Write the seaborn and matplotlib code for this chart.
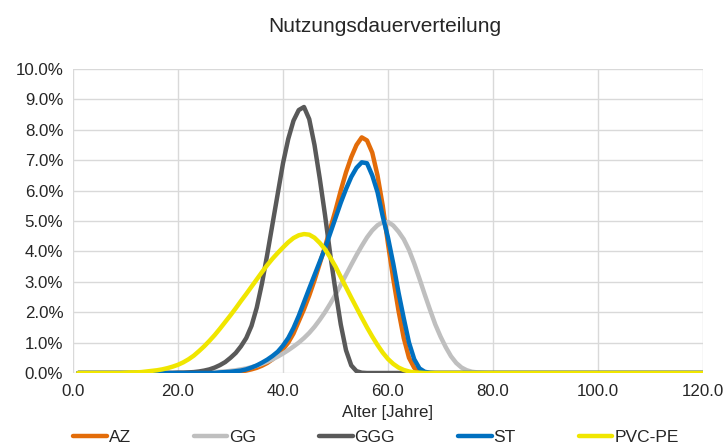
import matplotlib
matplotlib.use("Agg")
import matplotlib.pyplot as plt
import seaborn as sns
import pandas as pd
from matplotlib.ticker import FuncFormatter

# ---- data (percent per year of age) ----
years = list(range(1, 121))
series_names = ["AZ", "GG", "GGG", "ST", "PVC-PE"]
colors = ["#E36C09", "#BFBFBF", "#595959", "#0070C0", "#F0E600"]

az_start = 30
az_vals = [0.02, 0.03, 0.05, 0.08, 0.12, 0.17, 0.24, 0.33, 0.45, 0.6,
           0.78, 1.0, 1.3, 1.7, 2.1, 2.55, 3.05, 3.6, 4.15, 4.75,
           5.35, 6.0, 6.6, 7.1, 7.5, 7.75, 7.65, 7.25, 6.5, 5.5,
           4.25, 3.1, 2.05, 1.15, 0.5, 0.17, 0.05, 0.01]

gg_start = 25
gg_vals = [0.01, 0.02, 0.03, 0.04, 0.05, 0.07, 0.09, 0.12, 0.15, 0.19,
           0.24, 0.3, 0.37, 0.45, 0.54, 0.64, 0.75, 0.87, 1.0, 1.15,
           1.32, 1.52, 1.75, 2.0, 2.28, 2.58, 2.9, 3.23, 3.56, 3.88,
           4.18, 4.46, 4.69, 4.86, 4.96, 4.97, 4.85, 4.65, 4.4, 4.05,
           3.6, 3.1, 2.58, 2.08, 1.6, 1.2, 0.85, 0.55, 0.33, 0.18,
           0.09, 0.04, 0.02, 0.01]

ggg_start = 20
ggg_vals = [0.01, 0.01, 0.02, 0.03, 0.05, 0.08, 0.12, 0.18, 0.26, 0.36,
            0.5, 0.66, 0.88, 1.15, 1.55, 2.15, 2.95, 3.9, 4.9, 5.9,
            6.9, 7.7, 8.3, 8.65, 8.75, 8.35, 7.5, 6.4, 5.2, 3.9,
            2.7, 1.6, 0.75, 0.25, 0.06, 0.01]

st_start = 28
st_vals = [0.02, 0.03, 0.04, 0.06, 0.08, 0.12, 0.18, 0.25, 0.34, 0.44,
           0.56, 0.7, 0.9, 1.15, 1.48, 1.88, 2.33, 2.78, 3.22, 3.66,
           4.1, 4.6, 5.1, 5.6, 6.05, 6.45, 6.75, 6.93, 6.9, 6.5,
           5.95, 5.15, 4.45, 3.6, 2.65, 1.8, 1.0, 0.45, 0.15, 0.04,
           0.01]

pvc_start = 10
pvc_vals = [0.01, 0.02, 0.02, 0.03, 0.05, 0.07, 0.09, 0.12, 0.16, 0.21,
            0.27, 0.35, 0.45, 0.57, 0.72, 0.88, 1.06, 1.25, 1.46, 1.68,
            1.9, 2.13, 2.37, 2.6, 2.84, 3.08, 3.32, 3.55, 3.76, 3.95,
            4.13, 4.3, 4.44, 4.53, 4.57, 4.55, 4.45, 4.28, 4.07, 3.8,
            3.5, 3.16, 2.82, 2.48, 2.15, 1.82, 1.5, 1.2, 0.92, 0.67,
            0.46, 0.3, 0.18, 0.1, 0.05, 0.02, 0.01]

x_ticks = [0, 20, 40, 60, 80, 100, 120]
y_ticks = [0, 1, 2, 3, 4, 5, 6, 7, 8, 9, 10]


def full_series(start, vals):
    out = []
    for yr in years:
        i = yr - start
        out.append(vals[i] if 0 <= i < len(vals) else 0.0)
    return out


starts_vals = [(az_start, az_vals), (gg_start, gg_vals), (ggg_start, ggg_vals),
               (st_start, st_vals), (pvc_start, pvc_vals)]
rows = []
for name, (s, v) in zip(series_names, starts_vals):
    for yr, val in zip(years, full_series(s, v)):
        rows.append({"Alter": yr, "Wert": val, "Serie": name})
df = pd.DataFrame(rows)

# ---- plotting ----
sns.set_theme(style="white")
plt.rcParams["font.family"] = ["Liberation Sans", "DejaVu Sans"]

fig = plt.figure(figsize=(7.25, 4.48), dpi=100)
ax = fig.add_axes([73 / 725, 1 - 373 / 448, (703 - 73) / 725, (373 - 69) / 448])

sns.lineplot(data=df, x="Alter", y="Wert", hue="Serie", hue_order=series_names,
             palette=dict(zip(series_names, colors)), linewidth=3.2, ax=ax,
             legend=True)

ax.set_xlim(0, 120)
ax.set_ylim(0, 10)
ax.set_xticks(x_ticks)
ax.set_yticks(y_ticks)
ax.xaxis.set_major_formatter(FuncFormatter(lambda v, p: f"{v:.1f}"))
ax.yaxis.set_major_formatter(FuncFormatter(lambda v, p: f"{v:.1f}%"))
ax.grid(True, color="#D9D9D9", linewidth=1.0)
ax.set_axisbelow(True)
for sp in ax.spines.values():
    sp.set_visible(False)
ax.tick_params(axis="y", which="major", length=4, color="#D9D9D9", width=1,
               labelsize=12.2, labelcolor="#262626", pad=3)
ax.tick_params(axis="x", which="major", length=0, labelsize=12.2,
               labelcolor="#262626", pad=8)
ax.set_xlabel("Alter [Jahre]", fontsize=12.2, color="#262626", labelpad=4)
ax.set_ylabel("")

fig.text(0.531, 1 - 27 / 448, "Nutzungsdauerverteilung", ha="center", va="center",
         fontsize=15, color="#262626")

handles, labels = ax.get_legend_handles_labels()
ax.get_legend().remove()
fig.legend(handles, labels, loc="center left", bbox_to_anchor=(73 / 725, 1 - 437 / 448),
           ncol=5, frameon=False, fontsize=12.5, handlelength=1.95,
           handletextpad=0.1, columnspacing=3.62, borderaxespad=0, borderpad=0,
           labelcolor="#262626")

fig.savefig("out.png", dpi=100)
